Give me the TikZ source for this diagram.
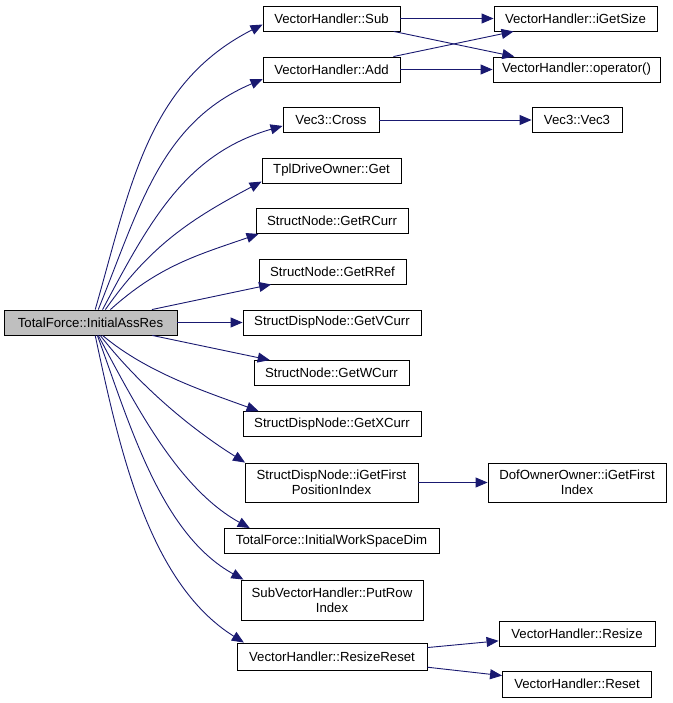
\documentclass[tikz,border=0pt]{standalone}
\usepackage{fontspec}
\setmainfont{Liberation Sans}
\usepackage{tikz}
\usetikzlibrary{arrows.meta}

\definecolor{edgeblue}{RGB}{25,25,112}
\definecolor{rootgray}{RGB}{191,191,191}

\begin{document}
\begin{tikzpicture}[x=1pt, y=1pt,
    fn/.style={draw=black, line width=0.9pt, fill=white, rectangle, inner sep=0pt,
               minimum height=25pt, align=center,
               font=\fontsize{13.2}{15}\selectfont},
    rootfn/.style={fn, fill=rootgray},
    call/.style={draw=edgeblue, line width=0.9pt,
                 -{Triangle[length=12pt, width=10pt]}}]
    % Fix the page size
    \useasboundingbox (0,0) rectangle (672,-703);

    % Calling function
    \node[rootfn, minimum width=173pt] (root) at (90.5,-322.5) {TotalForce::InitialAssRes};

    % Called functions, first level
    \node[fn, minimum width=137pt] (sub)    at (331.5,-18.5)  {VectorHandler::Sub};
    \node[fn, minimum width=137pt] (add)    at (331.5,-69.5)  {VectorHandler::Add};
    \node[fn, minimum width=96pt]  (cross)  at (331,-120)     {Vec3::Cross};
    \node[fn, minimum width=139pt] (tplget) at (331.5,-170.5) {TplDriveOwner::Get};
    \node[fn, minimum width=152pt] (rcurr)  at (332,-221)     {StructNode::GetRCurr};
    \node[fn, minimum width=147pt] (rref)   at (332.5,-271.5) {StructNode::GetRRef};
    \node[fn, minimum width=178pt] (vcurr)  at (332,-322.5)   {StructDispNode::GetVCurr};
    \node[fn, minimum width=155pt] (wcurr)  at (331.5,-373)   {StructNode::GetWCurr};
    \node[fn, minimum width=178pt] (xcurr)  at (332,-424)     {StructDispNode::GetXCurr};
    \node[fn, minimum width=173pt, minimum height=39pt] (posidx) at (331.5,-482.5)
        {StructDispNode::iGetFirst\\PositionIndex};
    \node[fn, minimum width=215pt] (wsdim)  at (331.5,-541)   {TotalForce::InitialWorkSpaceDim};
    \node[fn, minimum width=182pt, minimum height=40pt] (putrow) at (332,-600)
        {SubVectorHandler::PutRow\\Index};
    \node[fn, minimum width=190pt, minimum height=27pt] (rreset) at (332,-656.5)
        {VectorHandler::ResizeReset};

    % Called functions, second level
    \node[fn, minimum width=163pt] (igetsize) at (575.5,-18.5) {VectorHandler::iGetSize};
    \node[fn, minimum width=167pt] (oper)     at (576.5,-69.5) {VectorHandler::operator()};
    \node[fn, minimum width=90pt]  (vec3)     at (577,-120)    {Vec3::Vec3};
    \node[fn, minimum width=178pt, minimum height=39pt] (dofidx) at (577,-482.5)
        {DofOwnerOwner::iGetFirst\\Index};
    \node[fn, minimum width=156pt] (resize)   at (577,-633.5)  {VectorHandler::Resize};
    \node[fn, minimum width=149pt, minimum height=26pt] (reset) at (577,-684)
        {VectorHandler::Reset};

    % Calls going up
    \draw[call] (root.70) to[out=74, in=207] (sub.185);
    \draw[call] (root.59) to[out=68, in=203] (add.188);
    \draw[call] (root.47) to[out=62, in=196] (cross.187);
    \draw[call] (root.41) to[out=55, in=208] (tplget.189);
    \draw[call] (root.33) to[out=42, in=199] (rcurr.190);
    \draw[call] (root) -- (rref);

    % Straight across
    \draw[call] (root) -- (vcurr);

    % Calls going down
    \draw[call] (root) -- (wcurr);
    \draw[call] (root.-47) to[out=-40, in=160, looseness=0.85] (xcurr.170);
    \draw[call] (root.-53) to[out=-52, in=148, looseness=0.85] (posidx.167);
    \draw[call] (root.-59) to[out=-62, in=151, looseness=0.85] (wsdim.171);
    \draw[call] (root.-62) to[out=-70, in=151, looseness=0.85] (putrow.167);
    \draw[call] (root.-70) to[out=-78, in=148, looseness=0.85] (rreset.171);

    % Second level calls
    \draw[call] (sub) -- (igetsize);
    \draw[call] (sub) -- (oper);
    \draw[call] (add) -- (igetsize);
    \draw[call] (add) -- (oper);
    \draw[call] (cross) -- (vec3);
    \draw[call] (posidx) -- (dofidx);
    \draw[call] (rreset) -- (resize);
    \draw[call] (rreset) -- (reset);
\end{tikzpicture}
\end{document}
